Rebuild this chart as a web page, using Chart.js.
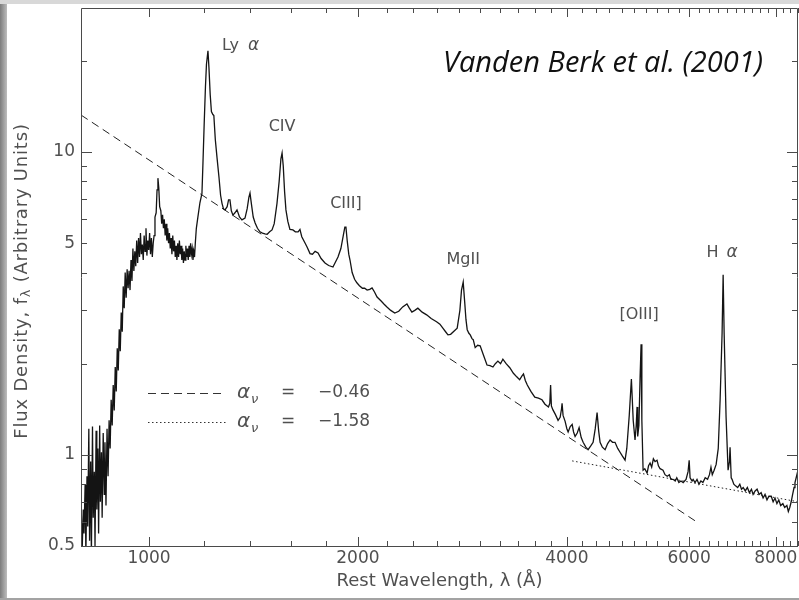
<!DOCTYPE html>
<html>
<head>
<meta charset="utf-8">
<script src="https://cdn.jsdelivr.net/npm/chart.js@4.4.1/dist/chart.umd.min.js"></script>
<style>
    html, body { margin: 0; padding: 0; }
    body { width: 799px; height: 600px; position: relative; overflow: hidden; background: #ffffff; }
    .edge-left { position: absolute; left: 0; top: 0; width: 7px; height: 600px; background: linear-gradient(to right, #7c7c7c, #bdbdbd); }
    .edge-top { position: absolute; left: 0; top: 0; width: 799px; height: 4px; background: #d8d8d8; }
    .edge-bottom { position: absolute; left: 0; top: 598px; width: 799px; height: 2px; background: #a3a3a3; }
    canvas { position: absolute; left: 0; top: 0; }
</style>
</head>
<body>
<div class="edge-left"></div>
<div class="edge-top"></div>
<div class="edge-bottom"></div>
<canvas id="chart" width="799" height="600"></canvas>
<script>
// composite quasar spectrum, rest wavelength (A) and flux density (arbitrary units)
const wavelength = [
    798, 801, 804, 806, 809, 811, 814, 816, 819, 821,
    824, 826, 829, 831, 834, 836, 839, 841, 844, 846,
    849, 851, 854, 856, 859, 862, 864, 867, 870, 873,
    876, 879, 882, 885, 888, 891, 894, 897, 900, 903,
    906, 909, 912, 915, 918, 921, 924, 927, 930, 933,
    936, 939, 942, 945, 948, 951, 954, 957, 960, 963,
    966, 969, 972, 975, 978, 981, 984, 987, 990, 993,
    996, 999, 1002, 1005, 1008, 1011, 1014, 1017, 1020, 1024,
    1027, 1030, 1033, 1036, 1040, 1043, 1046, 1049, 1052, 1055,
    1058, 1061, 1064, 1067, 1070, 1073, 1076, 1079, 1082, 1085,
    1088, 1091, 1094, 1097, 1100, 1103, 1106, 1109, 1112, 1115,
    1118, 1121, 1124, 1127, 1130, 1133, 1136, 1139, 1142, 1145,
    1148, 1151, 1154, 1157, 1160, 1163, 1166, 1170, 1176, 1184,
    1192, 1196, 1201, 1206, 1210, 1216, 1220, 1225, 1230, 1236,
    1240, 1246, 1253, 1261, 1268, 1274, 1280, 1287, 1296, 1302,
    1308, 1314, 1321, 1330, 1339, 1350, 1361, 1375, 1385, 1393,
    1398, 1405, 1413, 1422, 1433, 1445, 1457, 1469, 1480, 1492,
    1504, 1515, 1529, 1540, 1549, 1555, 1561, 1568, 1575, 1585,
    1596, 1612, 1625, 1640, 1650, 1660, 1678, 1690, 1706, 1720,
    1735, 1752, 1770, 1793, 1815, 1841, 1858, 1872, 1890, 1905,
    1915, 1922, 1930, 1940, 1948, 1962, 1978, 1993, 2010, 2030,
    2045, 2062, 2080, 2096, 2113, 2131, 2160, 2180, 2202, 2230,
    2260, 2290, 2320, 2353, 2372, 2392, 2415, 2440, 2475, 2512,
    2550, 2596, 2625, 2651, 2675, 2696, 2720, 2750, 2780, 2805,
    2820, 2836, 2850, 2862, 2874, 2890, 2903, 2920, 2932, 2951,
    2975, 3000, 3030, 3069, 3100, 3130, 3155, 3182, 3210, 3235,
    3270, 3310, 3350, 3387, 3420, 3445, 3464, 3485, 3508, 3550,
    3596, 3640, 3683, 3720, 3763, 3780, 3790, 3800, 3818, 3850,
    3885, 3912, 3930, 3937, 3950, 3977, 4000, 4017, 4045, 4071,
    4090, 4111, 4140, 4166, 4195, 4222, 4260, 4292, 4330, 4364,
    4395, 4422, 4445, 4466, 4500, 4541, 4580, 4617, 4655, 4693,
    4735, 4772, 4810, 4852, 4880, 4920, 4955, 4985, 5015, 5035,
    5049, 5060, 5080, 5100, 5117, 5130, 5151, 5180, 5220, 5245,
    5272, 5300, 5330, 5360, 5395, 5420, 5450, 5503, 5540, 5580,
    5620, 5650, 5689, 5730, 5760, 5800, 5840, 5884, 5940, 5980,
    6002, 6020, 6060, 6082, 6120, 6160, 6200, 6240, 6282, 6330,
    6380, 6420, 6452, 6480, 6520, 6564, 6610, 6651, 6695, 6718,
    6740, 6784, 6829, 6860, 6874, 6900, 6920, 6960, 7000, 7050,
    7100, 7140, 7180, 7230, 7280, 7330, 7380, 7420, 7470, 7519,
    7570, 7620, 7670, 7720, 7770, 7820, 7880, 7930, 7980, 8030,
    8080, 8130, 8190, 8240, 8300, 8340, 8380, 8420, 8460, 8500,
    8526, 8560, 8612,
];

const flux = [
    0.72, 0.48, 0.66, 0.55, 0.80, 0.47, 0.85, 0.58, 1.22, 0.52,
    0.95, 0.46, 1.24, 0.62, 0.88, 0.50, 1.20, 0.66, 1.05, 0.55,
    1.25, 0.70, 1.02, 0.62, 1.18, 0.74, 1.10, 0.68, 1.22, 0.85,
    1.30, 1.05, 1.52, 1.25, 1.70, 1.40, 1.95, 1.62, 2.25, 1.90,
    2.60, 2.20, 2.95, 2.55, 3.60, 3.05, 4.00, 3.30, 4.10, 3.55,
    4.05, 3.50, 4.40, 3.75, 4.80, 4.05, 4.70, 4.20, 5.10, 4.30,
    5.20, 4.50, 5.40, 4.60, 4.95, 4.40, 5.30, 4.70, 5.60, 4.55,
    5.10, 4.75, 5.40, 4.60, 5.20, 4.50, 5.00, 5.30, 6.10, 6.30,
    7.50, 8.20, 7.60, 6.60, 6.40, 5.80, 6.20, 5.60, 6.00, 5.30,
    5.80, 5.10, 5.60, 5.00, 5.40, 4.80, 5.20, 4.60, 5.30, 4.70,
    5.10, 4.50, 4.90, 4.40, 5.00, 4.50, 5.10, 4.60, 4.90, 4.40,
    4.80, 4.30, 4.70, 4.40, 4.90, 4.50, 4.80, 4.40, 4.90, 4.50,
    5.00, 4.60, 4.80, 4.40, 4.70, 4.50, 5.00, 5.60, 6.10, 6.80,
    7.30, 9.20, 12.5, 16.5, 19.5, 21.6, 19.0, 15.5, 13.6, 13.3,
    13.2, 11.0, 9.60, 8.30, 7.20, 6.77, 6.50, 6.44, 6.60, 6.95,
    6.95, 6.40, 6.19, 6.30, 6.44, 6.10, 5.97, 6.05, 6.50, 7.10,
    7.32, 6.70, 6.10, 5.83, 5.60, 5.45, 5.40, 5.37, 5.35, 5.45,
    5.53, 5.80, 6.77, 8.00, 9.50, 9.93, 9.00, 7.40, 6.44, 5.90,
    5.55, 5.53, 5.45, 5.45, 5.55, 5.25, 5.01, 4.85, 4.62, 4.60,
    4.70, 4.64, 4.45, 4.30, 4.22, 4.17, 4.35, 4.50, 4.80, 5.30,
    5.65, 5.65, 5.10, 4.60, 4.40, 4.00, 3.80, 3.70, 3.62, 3.55,
    3.55, 3.50, 3.52, 3.56, 3.45, 3.32, 3.22, 3.15, 3.08, 3.00,
    2.94, 2.98, 3.08, 3.15, 3.05, 2.96, 3.00, 3.05, 2.96, 2.90,
    2.82, 2.75, 2.70, 2.62, 2.55, 2.49, 2.50, 2.56, 2.62, 3.00,
    3.50, 3.72, 3.20, 2.80, 2.59, 2.52, 2.49, 2.42, 2.40, 2.26,
    2.30, 2.29, 2.15, 1.98, 1.97, 1.95, 2.00, 2.04, 2.00, 2.07,
    2.00, 1.94, 1.86, 1.81, 1.77, 1.82, 1.85, 1.76, 1.70, 1.62,
    1.55, 1.54, 1.52, 1.47, 1.44, 1.48, 1.70, 1.45, 1.41, 1.36,
    1.30, 1.33, 1.42, 1.48, 1.35, 1.29, 1.22, 1.19, 1.24, 1.26,
    1.19, 1.15, 1.18, 1.23, 1.14, 1.10, 1.06, 1.04, 1.07, 1.10,
    1.22, 1.38, 1.20, 1.10, 1.06, 1.04, 1.09, 1.12, 1.10, 1.10,
    1.05, 1.02, 0.99, 0.96, 1.05, 1.35, 1.78, 1.30, 1.12, 1.25,
    1.44, 1.15, 1.25, 1.80, 2.32, 1.30, 0.89, 0.90, 0.87, 0.92,
    0.94, 0.91, 0.97, 0.95, 0.96, 0.92, 0.90, 0.89, 0.86, 0.85,
    0.86, 0.83, 0.83, 0.82, 0.84, 0.81, 0.82, 0.81, 0.83, 0.88,
    0.96, 0.84, 0.82, 0.83, 0.81, 0.83, 0.80, 0.82, 0.81, 0.84,
    0.83, 0.86, 0.91, 0.86, 0.89, 0.93, 1.05, 1.52, 2.53, 3.93,
    2.53, 1.33, 0.89, 0.95, 1.06, 0.84, 0.83, 0.80, 0.79, 0.78,
    0.80, 0.77, 0.78, 0.76, 0.78, 0.75, 0.77, 0.74, 0.76, 0.77,
    0.74, 0.75, 0.72, 0.74, 0.71, 0.73, 0.73, 0.70, 0.72, 0.69,
    0.71, 0.68, 0.69, 0.67, 0.68, 0.65, 0.67, 0.70, 0.74, 0.78,
    0.81, 0.84, 0.89,
];

// power-law continuum fits
const blueFitX = [798, 6118];
const blueFitY = [13.25, 0.606];
const redFitX = [4071, 8612];
const redFitY = [0.955, 0.70];

const fitSlopes = ['\u22120.46', '\u22121.58'];

// emission line labels: text, wavelength and flux of the text baseline
const lineLabels = ['Ly', 'CIV', 'CIII]', 'MgII', '[OIII]', 'H'];
const lineLabelX = [1274, 1555, 1922, 2836, 5083, 6695];
const lineLabelY = [21.7, 11.7, 6.53, 4.27, 2.81, 4.5];

const xTickLabels = [1000, 2000, 4000, 6000, 8000];
const yTickLabels = [0.5, 1, 5, 10];
const yTicks = [0.5, 0.6, 0.7, 0.8, 0.9, 1, 2, 3, 4, 5, 6, 7, 8, 9, 10, 20];

const xTicks = [];
for (let v = 1000; v <= 8600; v += 200) {
    xTicks.push(v);
}

const TEXT = '#505050';
const FONT = '"DejaVu Sans", "Liberation Sans", sans-serif';

function toPoints(xs, ys) {
    return xs.map((x, i) => ({ x, y: ys[i] }));
}

const framePlugin = {
    id: 'frame',
    afterDraw(chart) {
        const { ctx, chartArea: area, scales } = chart;
        const x = scales.x;
        const y = scales.y;

        ctx.save();
        ctx.strokeStyle = '#4a4a4a';
        ctx.lineWidth = 1;
        ctx.beginPath();
        ctx.rect(area.left + 0.5, area.top + 0.5, area.right - area.left - 1, area.bottom - area.top);
        ctx.stroke();

        ctx.beginPath();
        xTicks.forEach((v) => {
            const px = Math.round(x.getPixelForValue(v)) + 0.5;
            const len = xTickLabels.includes(v) ? 9 : 5;
            ctx.moveTo(px, area.bottom);
            ctx.lineTo(px, area.bottom - len);
            ctx.moveTo(px, area.top);
            ctx.lineTo(px, area.top + len);
        });
        yTicks.forEach((v) => {
            const py = Math.round(y.getPixelForValue(v)) + 0.5;
            const len = (v === 1 || v === 10) ? 11 : 6;
            ctx.moveTo(area.left, py);
            ctx.lineTo(area.left + len, py);
            ctx.moveTo(area.right, py);
            ctx.lineTo(area.right - len, py);
        });
        ctx.stroke();

        // y axis title with subscript lambda
        ctx.fillStyle = TEXT;
        ctx.translate(22, (area.top + area.bottom) / 2 + 4);
        ctx.rotate(-Math.PI / 2);
        ctx.letterSpacing = '0.8px';
        const big = '18px ' + FONT;
        const small = '13px ' + FONT;
        const parts = [
            ['Flux Density, f', big, 0],
            ['\u03bb', small, 5],
            [' (Arbitrary Units)', big, 0],
        ];
        let total = 0;
        parts.forEach(([t, f]) => {
            ctx.font = f;
            total += ctx.measureText(t).width;
        });
        let cx = -total / 2;
        ctx.textBaseline = 'middle';
        parts.forEach(([t, f, dy]) => {
            ctx.font = f;
            ctx.fillText(t, cx, dy);
            cx += ctx.measureText(t).width;
        });
        ctx.restore();
    },
};

const notesPlugin = {
    id: 'notes',
    afterDraw(chart) {
        const { ctx, chartArea: area, scales } = chart;
        ctx.save();
        ctx.fillStyle = TEXT;
        ctx.textBaseline = 'alphabetic';

        // emission line names
        lineLabels.forEach((label, i) => {
            const px = scales.x.getPixelForValue(lineLabelX[i]);
            const py = scales.y.getPixelForValue(lineLabelY[i]);
            ctx.font = '16px ' + FONT;
            if (label === 'Ly' || label === 'H') {
                const gap = label === 'Ly' ? 9 : 8;
                const w = ctx.measureText(label).width;
                ctx.font = 'italic 17px ' + FONT;
                const aw = ctx.measureText('\u03b1').width;
                const start = label === 'Ly' ? px : px - (w + gap + aw) / 2;
                ctx.font = '16px ' + FONT;
                ctx.textAlign = 'left';
                ctx.fillText(label, start, py);
                ctx.font = 'italic 17px ' + FONT;
                ctx.fillText('\u03b1', start + w + gap, py);
            } else {
                ctx.textAlign = 'center';
                ctx.fillText(label, px, py);
            }
        });

        // legend for the two power-law fits
        const rows = [area.top + 385, area.top + 414];
        rows.forEach((ry, i) => {
            ctx.save();
            ctx.strokeStyle = '#333';
            ctx.lineWidth = 1;
            ctx.setLineDash(i === 0 ? [8, 5] : [1.5, 2.5]);
            ctx.beginPath();
            ctx.moveTo(area.left + 67, ry + 0.5);
            ctx.lineTo(area.left + 145, ry + 0.5);
            ctx.stroke();
            ctx.restore();

            ctx.textAlign = 'left';
            ctx.textBaseline = 'middle';
            ctx.font = 'italic 20px ' + FONT;
            ctx.fillText('\u03b1', area.left + 156, ry);
            ctx.font = 'italic 13px ' + FONT;
            ctx.fillText('\u03bd', area.left + 170, ry + 7);
            ctx.font = '17px ' + FONT;
            ctx.fillText('=', area.left + 200, ry);
            ctx.fillText(fitSlopes[i], area.left + 237, ry);
        });

        // citation
        ctx.font = 'italic 29px "Open Sans", "Liberation Sans", sans-serif';
        ctx.fillStyle = '#111';
        ctx.textAlign = 'left';
        ctx.textBaseline = 'alphabetic';
        const cite = 'Vanden Berk et al. (2001)';
        const cw = ctx.measureText(cite).width;
        const target = 323;
        const sx = cw > target ? target / cw : 1;
        ctx.translate(area.right - 32 - target, area.top + 64);
        ctx.scale(sx, 1);
        ctx.fillText(cite, 0, 0);
        ctx.restore();
    },
};

const tickFont = { family: FONT, size: 17 };

new Chart(document.getElementById('chart'), {
    type: 'scatter',
    data: {
        datasets: [
            {
                data: toPoints(wavelength, flux),
                showLine: true,
                borderColor: '#141414',
                borderWidth: 1.3,
                pointRadius: 0,
                tension: 0,
            },
            {
                data: toPoints(blueFitX, blueFitY),
                showLine: true,
                borderColor: '#222',
                borderWidth: 1,
                borderDash: [8, 5],
                pointRadius: 0,
            },
            {
                data: toPoints(redFitX, redFitY),
                showLine: true,
                borderColor: '#222',
                borderWidth: 1,
                borderDash: [1.5, 2.5],
                pointRadius: 0,
            },
        ],
    },
    options: {
        responsive: false,
        animation: false,
        devicePixelRatio: 1,
        layout: {
            padding: { top: 8, right: 1, left: 0, bottom: 0 },
        },
        plugins: {
            legend: { display: false },
            tooltip: { enabled: false },
        },
        scales: {
            x: {
                type: 'logarithmic',
                min: 798,
                max: 8612,
                afterBuildTicks(scale) {
                    scale.ticks = xTicks.map((value) => ({ value }));
                },
                afterFit(scale) {
                    scale.height = 54;
                    scale.paddingLeft = 0;
                    scale.paddingRight = 0;
                },
                ticks: {
                    autoSkip: false,
                    maxRotation: 0,
                    padding: 2,
                    color: TEXT,
                    font: tickFont,
                    callback: (value) => (xTickLabels.includes(value) ? String(value) : ''),
                },
                grid: { display: false, drawTicks: false },
                border: { display: false },
                title: {
                    display: true,
                    text: 'Rest Wavelength, \u03bb (\u00c5)',
                    color: TEXT,
                    font: { family: FONT, size: 18 },
                    padding: { top: 0, bottom: 8 },
                },
            },
            y: {
                type: 'logarithmic',
                min: 0.5,
                max: 29.9,
                afterBuildTicks(scale) {
                    scale.ticks = yTicks.map((value) => ({ value }));
                },
                afterFit(scale) {
                    scale.width = 81;
                    scale.paddingTop = 0;
                    scale.paddingBottom = 0;
                },
                ticks: {
                    autoSkip: false,
                    padding: 6,
                    color: TEXT,
                    font: tickFont,
                    callback: (value) => (yTickLabels.includes(value) ? String(value) : ''),
                },
                grid: { display: false, drawTicks: false },
                border: { display: false },
            },
        },
    },
    plugins: [framePlugin, notesPlugin],
});
</script>
</body>
</html>
